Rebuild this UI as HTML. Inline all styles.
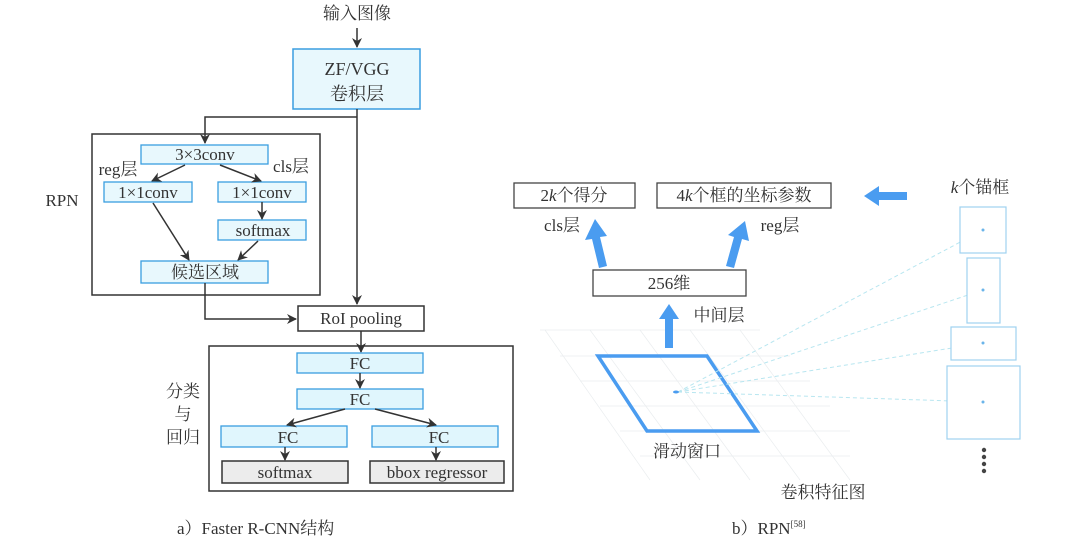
<!DOCTYPE html>
<html><head><meta charset="utf-8"><style>
html,body{margin:0;padding:0;background:#fff;}
svg{display:block;}
text{font-family:"Liberation Serif","Noto Serif CJK SC","Noto Sans CJK SC",serif;fill:#333;}
</style></head><body>
<svg width="1068" height="554" viewBox="0 0 1068 554" xmlns="http://www.w3.org/2000/svg">
<defs>
<marker id="ah" markerWidth="10" markerHeight="10" refX="9" refY="5" orient="auto" markerUnits="userSpaceOnUse">
<path d="M0,0 L10,5 L0,10 L3,5 Z" fill="#333"/></marker>
</defs>
<g font-size="17" text-anchor="middle">
<!-- LEFT -->
<text x="357" y="19">输入图像</text>
<line x1="357" y1="28" x2="357" y2="47" stroke="#333" stroke-width="1.5" marker-end="url(#ah)"/>
<rect x="293" y="49" width="127" height="60" fill="#e8f8fd" stroke="#3a9ee0" stroke-width="1.5"/>
<text x="357" y="75" font-size="18">ZF/VGG</text>
<text x="357" y="100" font-size="18">卷积层</text>
<polyline points="357,109 357,304" fill="none" stroke="#333" stroke-width="1.5" marker-end="url(#ah)"/>
<polyline points="357,117 205,117 205,143" fill="none" stroke="#333" stroke-width="1.5" marker-end="url(#ah)"/>
<rect x="92" y="134" width="228" height="161" fill="none" stroke="#333" stroke-width="1.5"/>
<text x="62" y="206" text-anchor="middle">RPN</text>
<rect x="141" y="145" width="127" height="19" fill="#e8f8fd" stroke="#3a9ee0" stroke-width="1.3"/>
<text x="205" y="160">3×3conv</text>
<text x="118" y="175">reg层</text>
<text x="291" y="172">cls层</text>
<rect x="104" y="182" width="88" height="20" fill="#e8f8fd" stroke="#3a9ee0" stroke-width="1.3"/>
<text x="148" y="198">1×1conv</text>
<rect x="218" y="182" width="88" height="20" fill="#e8f8fd" stroke="#3a9ee0" stroke-width="1.3"/>
<text x="262" y="198">1×1conv</text>
<rect x="218" y="220" width="88" height="20" fill="#e8f8fd" stroke="#3a9ee0" stroke-width="1.3"/>
<text x="263" y="236">softmax</text>
<rect x="141" y="261" width="127" height="22" fill="#e8f8fd" stroke="#3a9ee0" stroke-width="1.3"/>
<text x="205" y="278">候选区域</text>
<g stroke="#333" stroke-width="1.5" fill="none">
<line x1="185" y1="165" x2="152" y2="181" marker-end="url(#ah)"/>
<line x1="220" y1="165" x2="261" y2="181" marker-end="url(#ah)"/>
<line x1="262" y1="202" x2="262" y2="219" marker-end="url(#ah)"/>
<line x1="153" y1="203" x2="189" y2="260" marker-end="url(#ah)"/>
<line x1="258" y1="241" x2="238" y2="260" marker-end="url(#ah)"/>
<polyline points="205,283 205,319 296,319" marker-end="url(#ah)"/>
<line x1="361" y1="331" x2="361" y2="352" marker-end="url(#ah)"/>
</g>
<rect x="298" y="306" width="126" height="25" fill="#fff" stroke="#333" stroke-width="1.5"/>
<text x="361" y="324">RoI pooling</text>
<rect x="209" y="346" width="304" height="145" fill="none" stroke="#333" stroke-width="1.5"/>
<text x="183" y="397">分类</text>
<text x="183" y="420">与</text>
<text x="183" y="443">回归</text>
<rect x="297" y="353" width="126" height="20" fill="#e0f6fd" stroke="#3a9ee0" stroke-width="1.3"/>
<text x="360" y="369">FC</text>
<rect x="297" y="389" width="126" height="20" fill="#e0f6fd" stroke="#3a9ee0" stroke-width="1.3"/>
<text x="360" y="405">FC</text>
<rect x="221" y="426" width="126" height="21" fill="#e0f6fd" stroke="#3a9ee0" stroke-width="1.3"/>
<text x="288" y="443">FC</text>
<rect x="372" y="426" width="126" height="21" fill="#e0f6fd" stroke="#3a9ee0" stroke-width="1.3"/>
<text x="439" y="443">FC</text>
<rect x="222" y="461" width="126" height="22" fill="#ececec" stroke="#333" stroke-width="1.5"/>
<text x="285" y="478">softmax</text>
<rect x="370" y="461" width="134" height="22" fill="#ececec" stroke="#333" stroke-width="1.5"/>
<text x="437" y="478">bbox regressor</text>
<g stroke="#333" stroke-width="1.5" fill="none">
<line x1="360" y1="373" x2="360" y2="388" marker-end="url(#ah)"/>
<line x1="345" y1="409" x2="287" y2="425" marker-end="url(#ah)"/>
<line x1="375" y1="409" x2="436" y2="425" marker-end="url(#ah)"/>
<line x1="285" y1="447" x2="285" y2="460" marker-end="url(#ah)"/>
<line x1="436" y1="447" x2="436" y2="460" marker-end="url(#ah)"/>
</g>
<text x="177" y="534" text-anchor="start">a）Faster R-CNN结构</text>

<!-- RIGHT -->
<g stroke="#eaedef" stroke-width="0.7" fill="none">
<line x1="540" y1="330" x2="760" y2="330"/>
<line x1="560" y1="356" x2="790" y2="356"/>
<line x1="580" y1="381" x2="810" y2="381"/>
<line x1="600" y1="406" x2="830" y2="406"/>
<line x1="620" y1="431" x2="850" y2="431"/>
<line x1="640" y1="456" x2="850" y2="456"/>
<line x1="545" y1="330" x2="650" y2="480"/>
<line x1="590" y1="330" x2="700" y2="480"/>
<line x1="640" y1="330" x2="750" y2="480"/>
<line x1="690" y1="330" x2="800" y2="480"/>
<line x1="740" y1="330" x2="850" y2="480"/>
</g>
<rect x="514" y="183" width="121" height="25" fill="#fff" stroke="#444" stroke-width="1.3"/>
<text x="574" y="201">2<tspan font-style="italic">k</tspan>个得分</text>
<rect x="657" y="183" width="174" height="25" fill="#fff" stroke="#444" stroke-width="1.3"/>
<text x="744" y="201">4<tspan font-style="italic">k</tspan>个框的坐标参数</text>
<polygon points="864,196 879,186 879,192 907,192 907,200 879,200 879,206" fill="#4a9cf0"/>
<text x="980" y="193"><tspan font-style="italic">k</tspan>个锚框</text>
<text x="562" y="231">cls层</text>
<text x="780" y="231">reg层</text>
<g fill="#4a9cf0">
<polygon points="595,219 607,236 600,237 607,266 599,268 592,239 585,240"/>
<polygon points="745,221 749,241 742,239 734,268 726,266 734,237 728,235"/>
<polygon points="669,304 679,319 673,319 673,348 665,348 665,319 659,319"/>
</g>
<rect x="593" y="270" width="153" height="26" fill="#fff" stroke="#444" stroke-width="1.3"/>
<text x="669" y="289">256维</text>
<text x="719" y="321">中间层</text>
<polygon points="598,356 707,356 757,431 647,431" fill="none" stroke="#4a9cf0" stroke-width="3.5"/>
<text x="687" y="457">滑动窗口</text>
<text x="823" y="498">卷积特征图</text>
<g stroke="#b8e6f0" stroke-width="1" stroke-dasharray="4,3" fill="none">
<line x1="678" y1="392" x2="983" y2="230"/>
<line x1="678" y1="392" x2="983" y2="290"/>
<line x1="678" y1="392" x2="983" y2="343"/>
<line x1="678" y1="392" x2="983" y2="402"/>
</g>
<ellipse cx="676" cy="392" rx="3" ry="1.5" fill="#4a9cf0"/>
<g stroke="#9fd2ef" stroke-width="1.2" fill="#fff">
<rect x="960" y="207" width="46" height="46"/>
<rect x="967" y="258" width="33" height="65"/>
<rect x="951" y="327" width="65" height="33"/>
<rect x="947" y="366" width="73" height="73"/>
</g>
<g fill="#6ab4ea">
<circle cx="983" cy="230" r="1.5"/><circle cx="983" cy="290" r="1.5"/>
<circle cx="983" cy="343" r="1.5"/><circle cx="983" cy="402" r="1.5"/>
</g>
<g fill="#444">
<circle cx="984" cy="450" r="2.2"/><circle cx="984" cy="457" r="2.2"/>
<circle cx="984" cy="464" r="2.2"/><circle cx="984" cy="471" r="2.2"/>
</g>
<text x="732" y="534" text-anchor="start">b）RPN<tspan font-size="9" dy="-7">[58]</tspan></text>
</g>
</svg>
</body></html>
